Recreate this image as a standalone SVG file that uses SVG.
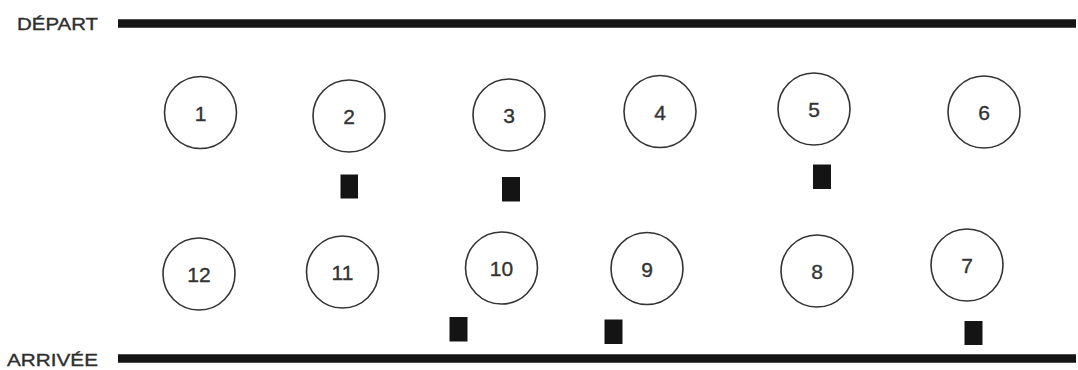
<svg xmlns="http://www.w3.org/2000/svg" width="1078" height="370" viewBox="0 0 1078 370">
<style>
.bg{fill:#ffffff}
.track{stroke:#151515;stroke-width:8.5;fill:none}
.lbl{font-family:"Liberation Sans",Arial,sans-serif;font-size:17px;fill:#2e2e2e;stroke:#2e2e2e;stroke-width:0.35}
.node circle{fill:#ffffff;stroke:#333333;stroke-width:1.6}
.node text{font-family:"Liberation Sans",Arial,sans-serif;font-size:21px;fill:#333333;stroke:#333333;stroke-width:0.35;text-anchor:middle}
.blk{fill:#141414}
</style>
<rect class="bg" x="0" y="0" width="1078" height="370"/>
<g id="connectors">
<line class="track" x1="118" y1="23.5" x2="1076" y2="23.5"/>
<line class="track" x1="118" y1="358.5" x2="1076" y2="358.5"/>
</g>
<g id="labels">
<text class="lbl" x="17" y="29.5" textLength="81" lengthAdjust="spacingAndGlyphs">DÉPART</text>
<text class="lbl" x="7" y="366" textLength="91" lengthAdjust="spacingAndGlyphs">ARRIVÉE</text>
</g>
<g id="n1" class="node"><circle cx="200.5" cy="112.5" r="36"/><text x="200.5" y="120.5">1</text></g>
<g id="n2" class="node"><circle cx="349" cy="116" r="36"/><text x="349" y="124">2</text></g>
<g id="n3" class="node"><circle cx="509" cy="115" r="36"/><text x="509" y="123">3</text></g>
<g id="n4" class="node"><circle cx="660" cy="111.5" r="36"/><text x="660" y="119.5">4</text></g>
<g id="n5" class="node"><circle cx="814" cy="109" r="36"/><text x="814" y="117">5</text></g>
<g id="n6" class="node"><circle cx="984" cy="112" r="36"/><text x="984" y="120">6</text></g>
<g id="n7" class="node"><circle cx="967" cy="265" r="36"/><text x="967" y="273">7</text></g>
<g id="n8" class="node"><circle cx="817" cy="271" r="36"/><text x="817" y="279">8</text></g>
<g id="n9" class="node"><circle cx="647" cy="268.5" r="36"/><text x="647" y="276.5">9</text></g>
<g id="n10" class="node"><circle cx="501.5" cy="268" r="36"/><text x="501.5" y="276">10</text></g>
<g id="n11" class="node"><circle cx="342.5" cy="272" r="36"/><text x="342.5" y="280">11</text></g>
<g id="n12" class="node"><circle cx="199" cy="274" r="36"/><text x="199" y="282">12</text></g>
<g id="blocks">
<rect class="blk" x="340.5" y="174.5" width="17.5" height="24"/>
<rect class="blk" x="502" y="177" width="18" height="24.5"/>
<rect class="blk" x="813" y="164.5" width="18" height="24.5"/>
<rect class="blk" x="449.5" y="317" width="18" height="24.5"/>
<rect class="blk" x="604.5" y="319.5" width="18" height="24.5"/>
<rect class="blk" x="964.5" y="321" width="18" height="24"/>
</g>
</svg>
